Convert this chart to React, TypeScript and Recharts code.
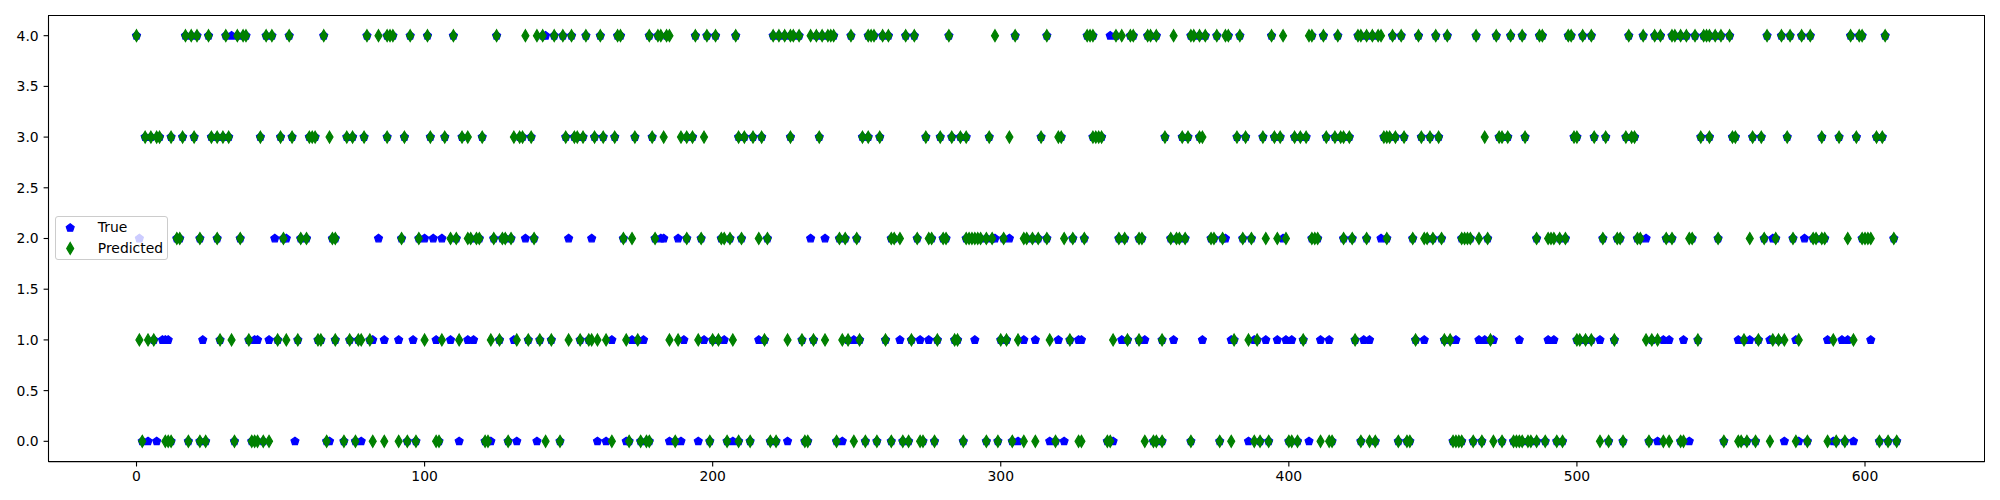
import React from "react";
import { ScatterChart, Scatter, XAxis, YAxis } from "recharts";

// predicted class per sample index, grouped by class (0..4)
const pred0 = [2, 10, 11, 12, 18, 22, 24, 34, 40, 41, 42, 44, 46, 66, 72, 76, 82, 86, 91, 94, 97, 104, 105, 121, 122, 129, 142, 147, 165, 171, 175, 177, 178, 187, 199, 205, 209, 213, 220, 222, 232, 233, 243, 249, 253, 257, 262, 266, 268, 272, 273, 277, 287, 295, 299, 304, 308, 312, 319, 327, 328, 337, 338, 350, 353, 354, 356, 366, 376, 380, 388, 390, 393, 400, 401, 403, 411, 414, 415, 425, 428, 430, 438, 441, 442, 457, 458, 459, 460, 464, 467, 471, 474, 478, 479, 480, 481, 483, 484, 486, 489, 493, 495, 508, 511, 516, 525, 530, 532, 536, 537, 551, 556, 557, 559, 562, 567, 576, 580, 587, 590, 593, 605, 608, 611];
const pred1 = [1, 4, 6, 29, 33, 39, 49, 52, 56, 63, 64, 69, 74, 77, 78, 81, 100, 106, 112, 123, 126, 132, 136, 140, 144, 150, 154, 157, 158, 160, 163, 170, 174, 185, 188, 195, 200, 202, 207, 218, 226, 231, 235, 239, 245, 247, 251, 260, 269, 278, 284, 285, 300, 302, 306, 317, 324, 339, 344, 348, 356, 381, 386, 389, 405, 423, 444, 454, 456, 470, 500, 501, 503, 505, 513, 524, 526, 528, 542, 558, 563, 568, 570, 572, 577, 589, 596];
const pred2 = [14, 15, 22, 28, 36, 51, 57, 59, 68, 69, 92, 98, 109, 111, 115, 116, 118, 119, 124, 127, 128, 130, 138, 169, 172, 180, 191, 196, 203, 204, 206, 210, 216, 219, 244, 246, 250, 262, 263, 265, 271, 275, 276, 280, 281, 288, 289, 290, 291, 292, 293, 295, 297, 301, 308, 309, 311, 313, 316, 322, 325, 329, 341, 343, 348, 349, 359, 361, 362, 364, 373, 374, 377, 384, 387, 392, 396, 399, 408, 409, 410, 419, 422, 427, 434, 443, 447, 448, 450, 453, 460, 461, 462, 463, 466, 469, 486, 490, 491, 492, 494, 496, 509, 514, 515, 521, 522, 531, 533, 539, 540, 549, 560, 565, 569, 575, 582, 583, 585, 586, 594, 599, 600, 601, 602, 610];
const pred3 = [3, 5, 7, 8, 12, 16, 20, 26, 28, 30, 32, 43, 50, 54, 60, 61, 62, 67, 73, 75, 79, 87, 93, 102, 107, 113, 115, 120, 131, 133, 134, 137, 149, 152, 153, 155, 159, 162, 166, 173, 179, 183, 189, 191, 193, 197, 209, 211, 214, 217, 227, 237, 252, 254, 258, 274, 279, 283, 286, 288, 296, 303, 314, 320, 321, 332, 333, 334, 335, 357, 363, 365, 369, 370, 382, 385, 391, 395, 397, 402, 404, 406, 413, 416, 418, 419, 421, 433, 434, 435, 437, 440, 446, 449, 452, 468, 473, 474, 476, 482, 499, 500, 506, 510, 517, 519, 520, 543, 546, 554, 555, 561, 564, 573, 585, 591, 597, 604, 606];
const pred4 = [0, 17, 19, 21, 25, 31, 35, 37, 38, 45, 47, 53, 65, 80, 84, 87, 88, 89, 95, 101, 110, 125, 135, 139, 141, 145, 148, 151, 156, 161, 167, 168, 178, 181, 182, 184, 185, 194, 198, 201, 208, 221, 223, 225, 227, 228, 230, 234, 236, 238, 240, 241, 242, 248, 254, 255, 256, 259, 261, 267, 270, 282, 298, 305, 316, 330, 331, 332, 340, 342, 345, 346, 351, 352, 354, 360, 366, 367, 369, 371, 375, 378, 379, 383, 394, 398, 407, 408, 412, 417, 424, 425, 427, 429, 431, 432, 436, 439, 445, 451, 455, 465, 472, 477, 481, 487, 488, 497, 498, 502, 505, 518, 523, 527, 529, 533, 534, 536, 538, 541, 544, 545, 546, 548, 550, 553, 566, 571, 574, 578, 581, 595, 598, 599, 607];

// true class where it differs from the prediction (visible blue markers)
const true0 = [4, 7, 55, 67, 78, 112, 123, 132, 139, 160, 163, 170, 185, 189, 195, 207, 226, 245, 306, 317, 322, 339, 386, 407, 528, 539, 572, 577, 589, 596];
const true1 = [9, 10, 11, 23, 41, 42, 46, 82, 86, 91, 96, 104, 109, 115, 117, 131, 165, 172, 176, 190, 197, 204, 216, 249, 265, 272, 275, 291, 308, 312, 320, 327, 328, 342, 350, 360, 370, 380, 388, 392, 396, 399, 401, 411, 414, 426, 428, 447, 458, 466, 468, 471, 480, 490, 492, 508, 530, 532, 537, 556, 560, 567, 576, 587, 592, 594, 602];
const true2 = [1, 48, 52, 84, 100, 103, 106, 135, 150, 158, 182, 183, 188, 234, 239, 298, 303, 378, 398, 432, 524, 568, 579];
const true3: number[] = [];
const true4 = [33, 142, 338];

const xTicks = [0, 100, 200, 300, 400, 500, 600];
const yTicks = [0, 0.5, 1, 1.5, 2, 2.5, 3, 3.5, 4];

const predRows = [pred0, pred1, pred2, pred3, pred4];
const trueRows = [true0, true1, true2, true3, true4];

const predictedData = predRows.flatMap((idx, v) => idx.map((i) => ({ x: i, y: v })));
const wrong = new Set(trueRows.flat());
const trueData = [
  ...predictedData.filter((p) => !wrong.has(p.x)),
  ...trueRows.flatMap((idx, v) => idx.map((i) => ({ x: i, y: v }))),
];

const BLUE = "#0000ff";
const GREEN = "#008000";
const font = "'DejaVu Sans', sans-serif";

function pentagonPath(cx: number, cy: number, r: number) {
  const pts: string[] = [];
  for (let k = 0; k < 5; k++) {
    const a = ((-90 + k * 72) * Math.PI) / 180;
    pts.push(`${cx + r * Math.cos(a)},${cy + r * Math.sin(a)}`);
  }
  return "M" + pts.join("L") + "Z";
}

function diamondPath(cx: number, cy: number, h: number, w: number) {
  return `M${cx},${cy - h}L${cx + w},${cy}L${cx},${cy + h}L${cx - w},${cy}Z`;
}

const Pentagon = (props: any) => {
  const { cx, cy } = props;
  if (cx == null || cy == null) return null;
  return <path d={pentagonPath(cx, cy, 4.17)} fill={BLUE} stroke={BLUE} strokeWidth={1.2} />;
};

const ThinDiamond = (props: any) => {
  const { cx, cy } = props;
  if (cx == null || cy == null) return null;
  return <path d={diamondPath(cx, cy, 5.9, 3.5)} fill={GREEN} stroke={GREEN} strokeWidth={1.2} />;
};

const tickStyle = { fill: "#000", fontSize: 13.9, fontFamily: font };

export default function App() {
  return (
    <div style={{ position: "relative", width: 1984, height: 492 }}>
      <ScatterChart width={1984} height={492} margin={{ top: 7.4, right: 7.3, bottom: 0, left: 0 }}>
        <XAxis
          type="number"
          dataKey="x"
          domain={[-30.55, 641.55]}
          ticks={xTicks}
          height={38.4}
          tickSize={4.9}
          tickMargin={4.9}
          tick={tickStyle}
          stroke="#000"
          axisLine={{ stroke: "#000", strokeWidth: 1.1 }}
          tickLine={{ stroke: "#000", strokeWidth: 1.1 }}
          allowDataOverflow
        />
        <YAxis
          type="number"
          dataKey="y"
          domain={[-0.2, 4.2]}
          ticks={yTicks}
          tickFormatter={(v: number) => v.toFixed(1)}
          width={40.5}
          tickSize={4.9}
          tickMargin={4.9}
          tick={tickStyle}
          stroke="#000"
          axisLine={{ stroke: "#000", strokeWidth: 1.1 }}
          tickLine={{ stroke: "#000", strokeWidth: 1.1 }}
          allowDataOverflow
        />
        <Scatter name="True" data={trueData} shape={Pentagon} isAnimationActive={false} />
        <Scatter name="Predicted" data={predictedData} shape={ThinDiamond} isAnimationActive={false} />
      </ScatterChart>
      {/* plot frame (top and right spines) */}
      <div
        style={{
          position: "absolute",
          left: 40.5 - 0.55,
          top: 7.4 - 0.55,
          width: 1936.2 + 1.1,
          height: 446.2 + 1.1,
          boxSizing: "border-box",
          border: "1.1px solid #000",
          pointerEvents: "none",
        }}
      />
      <div
        style={{
          position: "absolute",
          left: 46.8,
          top: 207.6,
          width: 113.6,
          height: 44.6,
          boxSizing: "border-box",
          background: "rgba(255,255,255,0.8)",
          border: "1px solid #cccccc",
          borderRadius: 3,
          fontFamily: font,
          fontSize: 13.9,
          color: "#000",
        }}
      >
        <svg width={30} height={44} style={{ position: "absolute", left: 0, top: 0 }}>
          <path d={pentagonPath(14.2, 10.9, 4.17)} fill={BLUE} stroke={BLUE} strokeWidth={1.2} />
          <path d={diamondPath(14.2, 31.4, 5.9, 3.5)} fill={GREEN} stroke={GREEN} strokeWidth={1.2} />
        </svg>
        <div style={{ position: "absolute", left: 42, top: 10.9, transform: "translateY(-50%)", lineHeight: "16px" }}>True</div>
        <div style={{ position: "absolute", left: 42, top: 31.4, transform: "translateY(-50%)", lineHeight: "16px" }}>Predicted</div>
      </div>
    </div>
  );
}
